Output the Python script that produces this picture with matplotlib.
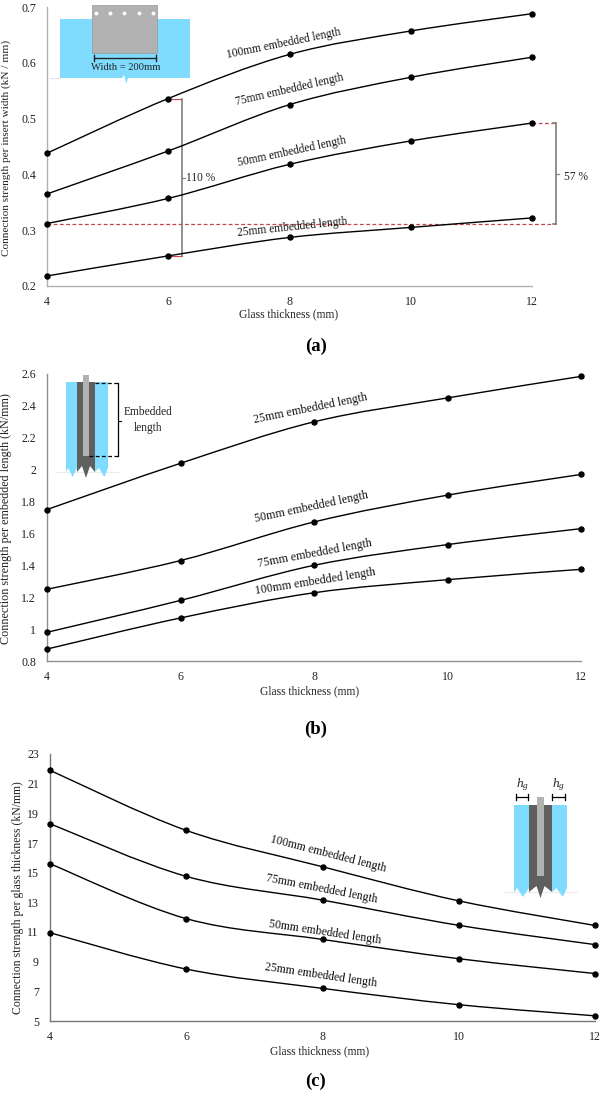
import numpy as np
import matplotlib
matplotlib.use('Agg')
from matplotlib import pyplot as plt
from matplotlib.path import Path
from matplotlib.patches import PathPatch, Polygon, Rectangle

plt.rcParams['font.family'] = ['Liberation Serif', 'DejaVu Serif']
plt.rcParams['mathtext.fontset'] = 'custom'
plt.rcParams['mathtext.it'] = 'Liberation Serif:italic'
plt.rcParams['mathtext.rm'] = 'Liberation Serif'

W, H = 600, 1093

thickness = [4, 6, 8, 10, 12]

a_100 = [0.438, 0.536, 0.615, 0.657, 0.688]
a_75 = [0.365, 0.442, 0.525, 0.574, 0.610]
a_50 = [0.312, 0.357, 0.418, 0.460, 0.492]
a_25 = [0.218, 0.254, 0.287, 0.305, 0.322]

b_25 = [1.75, 2.04, 2.30, 2.45, 2.585]
b_50 = [1.25, 1.43, 1.672, 1.84, 1.97]
b_75 = [0.98, 1.18, 1.40, 1.53, 1.63]
b_100 = [0.875, 1.07, 1.228, 1.31, 1.375]

c_100 = [21.9, 17.85, 15.4, 13.1, 11.44]
c_75 = [18.3, 14.75, 13.15, 11.45, 10.15]
c_50 = [15.6, 11.9, 10.5, 9.2, 8.2]
c_25 = [10.95, 8.5, 7.2, 6.1, 5.35]

a_ticks = [0.2, 0.3, 0.4, 0.5, 0.6, 0.7]
b_ticks = [0.8, 1, 1.2, 1.4, 1.6, 1.8, 2, 2.2, 2.4, 2.6]
c_ticks = [5, 7, 9, 11, 13, 15, 17, 19, 21, 23]

BLUE = '#80dcff'
DARK = '#5f5f5f'
LIGHT = '#b2b2b2'
GREY = '#7f7f7f'
RED = '#c8444a'

fig = plt.figure(figsize=(W / 100, H / 100), dpi=100, facecolor='white')


def make_axes(left, right, top, bottom, ylim, ticks, ticklabels, ylabel, ylabel_x, ylabel_y, ylabel_size,
              xlabel_x, xlabel_y, spine):
    ax = fig.add_axes([left / W, 1 - bottom / H, (right - left) / W, (bottom - top) / H])
    ax.patch.set_alpha(0)
    ax.set_xlim(4, 12)
    ax.set_ylim(*ylim)
    ax.set_xticks(thickness)
    ax.set_yticks(ticks)
    ax.set_yticklabels(ticklabels)
    ax.tick_params(length=0, labelsize=8.6, colors='#222222')
    ax.tick_params(axis='x', pad=7)
    ax.tick_params(axis='y', pad=8)
    for s in ['top', 'right']:
        ax.spines[s].set_visible(False)
    for s in ['left', 'bottom']:
        ax.spines[s].set_color(spine)
        ax.spines[s].set_linewidth(1.0)
    fig.text(ylabel_x / W, 1 - ylabel_y / H, ylabel, rotation=90, fontsize=ylabel_size,
             ha='center', va='center', color='#222222')
    fig.text(xlabel_x / W, 1 - xlabel_y / H, 'Glass thickness (mm)', fontsize=8.3,
             ha='center', va='center', color='#222222')
    return ax


def smooth_line(ax, ys):
    # excel style smoothed line, bezier handles come from the neighbouring points
    xs = np.array(thickness, dtype=float)
    ys = np.array(ys, dtype=float)
    verts = [(xs[0], ys[0])]
    codes = [Path.MOVETO]
    for i in range(len(xs) - 1):
        x0, y0 = (xs[i - 1], ys[i - 1]) if i > 0 else (xs[i], ys[i])
        x3, y3 = (xs[i + 2], ys[i + 2]) if i + 2 < len(xs) else (xs[i + 1], ys[i + 1])
        verts.append((xs[i] + (xs[i + 1] - x0) / 6, ys[i] + (ys[i + 1] - y0) / 6))
        verts.append((xs[i + 1] - (x3 - xs[i]) / 6, ys[i + 1] - (y3 - ys[i]) / 6))
        verts.append((xs[i + 1], ys[i + 1]))
        codes += [Path.CURVE4, Path.CURVE4, Path.CURVE4]
    ax.add_patch(PathPatch(Path(verts, codes), fill=False, edgecolor='black', linewidth=1.0, zorder=3))
    ax.plot(xs, ys, linestyle='none', marker='o', markersize=3.6, color='black', clip_on=False, zorder=4)


# panel a
ax_a = make_axes(47, 532, 7, 286, (0.2, 0.7), a_ticks, ['0.2', '0.3', '0.4', '0.5', '0.6', '0.7'],
                 'Connection strength per insert width (kN / mm)', 6, 148, 8.1, 289, 314, '#b0b0b0')
for series in [a_100, a_75, a_50, a_25]:
    smooth_line(ax_a, series)

# panel b
ax_b = make_axes(47, 581, 374, 661, (0.8, 2.6), b_ticks,
                 ['0.8', '1', '1.2', '1.4', '1.6', '1.8', '2', '2.2', '2.4', '2.6'],
                 'Connection strength per embedded length (kN/mm)', 6.5, 518.5, 8.75, 310, 691, '#909090')
for series in [b_25, b_50, b_75, b_100]:
    smooth_line(ax_b, series)

# panel c
ax_c = make_axes(50, 595, 754, 1021, (5, 23), c_ticks, [str(t) for t in c_ticks],
                 'Connection strength per glass thickness (kN/mm)', 18, 897.5, 8.5, 320, 1051, '#777777')
for series in [c_100, c_75, c_50, c_25]:
    smooth_line(ax_c, series)

# overlay in pixel coordinates for the labels and the little sketches
ov = fig.add_axes([0, 0, 1, 1])
ov.set_xlim(0, W)
ov.set_ylim(H, 0)
ov.axis('off')
ov.patch.set_alpha(0)


def label(x, y, s, rot, size=8.3):
    ov.text(x, y, s, rotation=rot, rotation_mode='anchor', ha='center', va='center',
            fontsize=size, color='#111111', zorder=6)


label(284, 44, '100mm embedded length', 11.5)
label(289, 90, '75mm embedded length', 13)
label(292, 152, '50mm embedded length', 12)
label(292, 227, '25mm embedded length', 6)

label(311, 409, '25mm embedded length', 11.5, 8.6)
label(311, 507, '50mm embedded length', 12, 8.6)
label(315, 554, '75mm embedded length', 10.5, 8.6)
label(315, 582, '100mm embedded length', 9, 8.6)

label(328, 854, '100mm embedded length', -14.4, 8.5)
label(322, 889, '75mm embedded length', -11, 8.5)
label(325, 932, '50mm embedded length', -8.4, 8.5)
label(321, 975, '25mm embedded length', -8.4, 8.5)

for s, y in [('(a)', 346), ('(b)', 729), ('(c)', 1081)]:
    fig.text(316 / W, 1 - y / H, s, fontsize=13.5, fontweight='bold',
             ha='center', va='center', color='black')

# percentage brackets on panel a
ref = a_50[0]
ax_a.plot([4, 12.36], [ref, ref], color=RED, linestyle=(0, (3, 2)), linewidth=0.9, clip_on=False, zorder=2)
ax_a.plot([12, 12.36], [a_50[4], a_50[4]], color=RED, linestyle=(0, (3, 2)), linewidth=0.9, clip_on=False, zorder=2)
ax_a.plot([6, 6.22], [a_100[1], a_100[1]], color=RED, linewidth=0.8, zorder=2)
ax_a.plot([6, 6.22], [a_25[1], a_25[1]], color=RED, linewidth=0.8, zorder=2)
ax_a.plot([6.22, 6.22], [a_25[1], a_100[1]], color=GREY, linewidth=1.2, zorder=2)
ax_a.plot([12.4, 12.4], [ref, a_50[4]], color=GREY, linewidth=1.2, clip_on=False, zorder=2)
ax_a.plot([12.34, 12.4], [ref, ref], color=GREY, linewidth=1.2, clip_on=False, zorder=2)
ax_a.plot([12.34, 12.4], [a_50[4], a_50[4]], color=GREY, linewidth=1.2, clip_on=False, zorder=2)
ov.plot([182, 185], [178, 178], color=GREY, linewidth=0.8)
ov.plot([556, 559], [174, 174], color=GREY, linewidth=0.8)
ov.text(186, 178, '110 %', fontsize=8.3, ha='left', va='center', color='#222222')
ov.text(564, 177, '57 %', fontsize=8.3, ha='left', va='center', color='#222222')

# sketch a, insert seen from the front
ov.plot([50, 60], [78, 78], color='#e6e6e6', linewidth=0.8)
ov.add_patch(Polygon([(60, 19), (190, 19), (190, 78), (128, 78), (126.5, 83.5), (124, 75), (122, 78), (60, 78)],
                     facecolor=BLUE, edgecolor='none'))
ov.add_patch(Rectangle((92, 5), 65, 48, facecolor=LIGHT, edgecolor='#999999', linewidth=0.5))
for x in [96, 110, 124, 139, 153]:
    ov.plot(x, 12.5, marker='o', markersize=1.8, color='white', linestyle='none')
ov.plot([93.5, 156], [58, 58], color='#222222', linewidth=1)
ov.plot([93.5, 93.5], [55, 61], color='#222222', linewidth=1)
ov.plot([156, 156], [55, 61], color='#222222', linewidth=1)
ov.text(125.5, 68, 'Width = 200mm', fontsize=7.6, ha='center', va='center', color='#222222')


def glass(x0, x1, top, bottom, flip=False):
    # glass pane with a broken lower edge
    w = x1 - x0
    low = 0.72 if flip else 0.6
    high = 0.3 if flip else 0.2
    pts = [(x0, top), (x1, top), (x1, bottom - 4), (x0 + low * w, bottom + 5), (x0 + high * w, bottom - 4), (x0, bottom)]
    ov.add_patch(Polygon(pts, facecolor=BLUE, edgecolor='none'))


def section(x_blue0, x_blue1, x_dark0, x_dark1, x_st0, x_st1, top, bottom, st_top, st_bottom):
    ov.plot([x_blue0 - 10, x_blue1 + 10], [bottom, bottom], color='#ececec', linewidth=0.8, zorder=0)
    glass(x_blue0, x_dark0, top, bottom)
    glass(x_dark1, x_blue1, top, bottom, flip=True)
    mid = (x_dark0 + x_dark1) / 2
    ov.add_patch(Polygon([(x_dark0, top), (x_dark1, top), (x_dark1, bottom), (mid + 4, bottom - 6),
                          (mid, bottom + 6), (mid - 4, bottom - 6), (x_dark0, bottom)],
                         facecolor=DARK, edgecolor='none'))
    ov.add_patch(Rectangle((x_st0, st_top), x_st1 - x_st0, st_bottom - st_top, facecolor=LIGHT, edgecolor='none'))


# sketch b
section(66, 108, 77, 95, 83, 89, 382, 472, 375, 456)
ov.plot([95, 118], [383, 383], color='black', linewidth=0.9, linestyle=(0, (3, 2)))
ov.plot([89, 118], [456, 456], color='black', linewidth=0.9, linestyle=(0, (3, 2)))
ov.plot([118, 118], [383, 456], color='black', linewidth=0.9)
ov.plot([118, 121], [421, 421], color='black', linewidth=0.8)
ov.text(148, 420, 'Embedded\nlength', fontsize=8.3, ha='center', va='center', color='#222222', linespacing=1.35)

# sketch c
section(514, 567, 529, 552, 537, 544, 805, 892, 797, 876)
for x0, x1 in [(516, 528), (552, 565)]:
    ov.plot([x0, x1], [797, 797], color='black', linewidth=0.9)
    ov.plot([x0, x0], [794, 800], color='black', linewidth=0.9)
    ov.plot([x1, x1], [794, 800], color='black', linewidth=0.9)
    ov.text((x0 + x1) / 2, 785, '$h_g$', fontsize=9.5, ha='center', va='center', color='#222222')

fig.savefig('out.png', dpi=100)
